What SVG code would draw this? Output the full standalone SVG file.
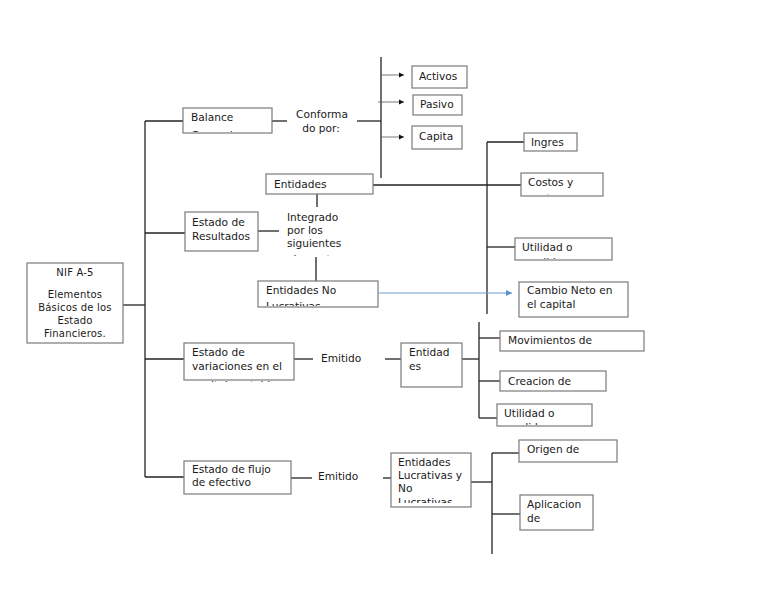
<svg xmlns="http://www.w3.org/2000/svg" width="768" height="594" viewBox="0 0 768 594">
<style>
.box{fill:#fff;stroke:#7a7a7a;stroke-width:1.2}
.t{font-family:"DejaVu Sans",Verdana,sans-serif;font-size:10.6px;fill:#1a1a1a}
.s{font-family:"DejaVu Sans",Verdana,sans-serif;font-size:10px;fill:#1a1a1a;letter-spacing:0.2px}
.c line,.c path{stroke:#222;stroke-width:1.3;fill:none}
.c .thin{stroke:#555;stroke-width:0.8}
.c .blue{stroke:#6a9bd0;stroke-width:1}
</style>
<defs>
<marker id="ah" markerWidth="6" markerHeight="6" refX="5" refY="3" orient="auto" markerUnits="userSpaceOnUse">
<path d="M0,0.5 L5,3 L0,5.5 Z" fill="#111"/>
</marker>
<marker id="ahb" markerWidth="7" markerHeight="7" refX="6" refY="3.5" orient="auto" markerUnits="userSpaceOnUse">
<path d="M0,0.5 L6,3.5 L0,6.5 Z" fill="#5b8fcc"/>
</marker>
<clipPath id="cBal"><rect x="183" y="108" width="89" height="24"/></clipPath>
<clipPath id="cCap"><rect x="412" y="126" width="50" height="22"/></clipPath>
<clipPath id="cEnt"><rect x="266" y="174" width="107" height="20"/></clipPath>
<clipPath id="cInt"><rect x="280" y="205" width="80" height="51"/></clipPath>
<clipPath id="cENL"><rect x="258" y="281" width="120" height="25"/></clipPath>
<clipPath id="cIng"><rect x="524" y="133" width="53" height="18"/></clipPath>
<clipPath id="cCos"><rect x="521" y="173" width="82" height="22"/></clipPath>
<clipPath id="cUti"><rect x="515" y="238" width="97" height="21"/></clipPath>
<clipPath id="cVar"><rect x="184" y="343" width="110" height="39"/></clipPath>
<clipPath id="cUt2"><rect x="497" y="404" width="95" height="21"/></clipPath>
<clipPath id="cELN"><rect x="391" y="453" width="80" height="50"/></clipPath>
</defs>

<g id="connectors" class="c">
<line x1="145" y1="121" x2="145" y2="477"/>
<line x1="145" y1="121" x2="183" y2="121"/>
<line x1="145" y1="233" x2="185" y2="233"/>
<line x1="123" y1="305" x2="145" y2="305"/>
<line x1="145" y1="359" x2="184" y2="359"/>
<line x1="145" y1="477" x2="184" y2="477"/>
<line x1="272" y1="121" x2="287" y2="121"/>
<line x1="357" y1="121" x2="381" y2="121"/>
<line x1="381" y1="57" x2="381" y2="178"/>
<line class="thin" x1="381" y1="75" x2="404" y2="75" marker-end="url(#ah)"/>
<line class="thin" x1="378" y1="102" x2="404" y2="102" marker-end="url(#ah)"/>
<line class="thin" x1="381" y1="137" x2="404" y2="137" marker-end="url(#ah)"/>
<line x1="373" y1="185" x2="521" y2="185"/>
<line x1="487" y1="142" x2="487" y2="314"/>
<line x1="487" y1="142" x2="524" y2="142"/>
<line x1="487" y1="247" x2="515" y2="247"/>
<line class="blue" x1="379" y1="293" x2="512" y2="293" marker-end="url(#ahb)"/>
<line x1="317" y1="194" x2="317" y2="207"/>
<line x1="316" y1="257" x2="316" y2="281"/>
<line x1="258" y1="231" x2="279" y2="231"/>
<line x1="294" y1="359" x2="313" y2="359"/>
<line x1="385" y1="359" x2="401" y2="359"/>
<line x1="462" y1="359" x2="479" y2="359"/>
<line x1="479" y1="322" x2="479" y2="418"/>
<line x1="479" y1="338" x2="500" y2="338"/>
<line x1="479" y1="381" x2="500" y2="381"/>
<line x1="479" y1="418" x2="497" y2="418"/>
<line x1="291" y1="478" x2="312" y2="478"/>
<line x1="383" y1="478" x2="391" y2="478"/>
<line x1="471" y1="482" x2="492" y2="482"/>
<line x1="492" y1="453" x2="492" y2="554"/>
<line x1="492" y1="453" x2="519" y2="453"/>
<line x1="492" y1="514" x2="520" y2="514"/>
</g>

<g id="nif">
<rect class="box" x="27" y="263" width="96" height="80"/>
<text class="s" text-anchor="middle" x="75" y="276">NIF A-5</text>
<text class="s" text-anchor="middle" x="75" y="298">Elementos</text>
<text class="s" text-anchor="middle" x="75" y="311">Básicos de los</text>
<text class="s" text-anchor="middle" x="75" y="324">Estado</text>
<text class="s" text-anchor="middle" x="75" y="337">Financieros.</text>
</g>

<g id="balance">
<rect class="box" x="183" y="108" width="89" height="25"/>
<g clip-path="url(#cBal)">
<text class="t" x="191" y="121">Balance</text>
<text class="t" x="191" y="138.5">General</text>
</g>
</g>

<g id="conformado">
<text class="t" text-anchor="middle" x="322" y="118">Conforma</text>
<text class="t" text-anchor="middle" x="321" y="132">do por:</text>
</g>

<g id="activos">
<rect class="box" x="412" y="66" width="55" height="22"/>
<text class="t" x="419" y="80">Activos</text>
</g>
<g id="pasivo">
<rect class="box" x="413" y="95" width="49" height="20"/>
<text class="t" x="420" y="108">Pasivo</text>
</g>
<g id="capital">
<rect class="box" x="412" y="126" width="50" height="23"/>
<g clip-path="url(#cCap)">
<text class="t" x="419" y="140">Capita</text>
<text class="t" x="419" y="155.5">l</text>
</g>
</g>

<g id="resultados">
<rect class="box" x="185" y="212" width="73" height="39"/>
<text class="t" x="192" y="226">Estado de</text>
<text class="t" x="192" y="240">Resultados</text>
</g>

<g id="integrado">
<g clip-path="url(#cInt)">
<text class="t" x="287" y="221">Integrado</text>
<text class="t" x="287" y="234">por los</text>
<text class="t" x="287" y="247">siguientes</text>
<text class="t" x="287" y="263">elementos</text>
</g>
</g>

<g id="entidades-lucrativas">
<rect class="box" x="266" y="174" width="107" height="20"/>
<g clip-path="url(#cEnt)">
<text class="t" x="274" y="188">Entidades</text>
</g>
</g>

<g id="entidades-no-lucrativas">
<rect class="box" x="258" y="281" width="120" height="26"/>
<g clip-path="url(#cENL)">
<text class="t" x="266" y="294">Entidades No</text>
<text class="t" x="266" y="310">Lucrativas</text>
</g>
</g>

<g id="ingresos">
<rect class="box" x="524" y="133" width="53" height="18"/>
<g clip-path="url(#cIng)">
<text class="t" x="531" y="146">Ingres</text>
</g>
</g>
<g id="costos">
<rect class="box" x="521" y="173" width="82" height="23"/>
<g clip-path="url(#cCos)">
<text class="t" x="528" y="186">Costos y</text>
<text class="t" x="528" y="201.5">gastos</text>
</g>
</g>
<g id="utilidad">
<rect class="box" x="515" y="238" width="97" height="22"/>
<g clip-path="url(#cUti)">
<text class="t" x="522" y="251">Utilidad o</text>
<text class="t" x="522" y="265.5">perdida</text>
</g>
</g>
<g id="cambio-neto">
<rect class="box" x="519" y="282" width="109" height="35"/>
<text class="t" x="527" y="294">Cambio Neto en</text>
<text class="t" x="527" y="308">el capital</text>
</g>

<g id="variaciones">
<rect class="box" x="184" y="343" width="110" height="37"/>
<g clip-path="url(#cVar)">
<text class="t" x="192" y="356">Estado de</text>
<text class="t" x="192" y="370">variaciones en el</text>
<text class="t" x="192" y="388.5">capital contable</text>
</g>
</g>
<g id="emitido1">
<text class="t" x="321" y="362">Emitido</text>
</g>
<g id="entidades-var">
<rect class="box" x="401" y="343" width="61" height="44"/>
<text class="t" x="409" y="356">Entidad</text>
<text class="t" x="409" y="370">es</text>
</g>
<g id="movimientos">
<rect class="box" x="500" y="331" width="144" height="20"/>
<text class="t" x="508" y="344">Movimientos de</text>
</g>
<g id="creacion">
<rect class="box" x="500" y="371" width="106" height="20"/>
<text class="t" x="508" y="385">Creacion de</text>
</g>
<g id="utilidad2">
<rect class="box" x="497" y="404" width="95" height="22"/>
<g clip-path="url(#cUt2)">
<text class="t" x="504" y="417">Utilidad o</text>
<text class="t" x="504" y="431">perdida</text>
</g>
</g>

<g id="flujo">
<rect class="box" x="184" y="461" width="107" height="33"/>
<text class="t" x="192" y="473">Estado de flujo</text>
<text class="t" x="192" y="486">de efectivo</text>
</g>
<g id="emitido2">
<text class="t" x="318" y="480">Emitido</text>
</g>
<g id="entidades-flujo">
<rect class="box" x="391" y="453" width="80" height="54"/>
<g clip-path="url(#cELN)">
<text class="t" x="398" y="466">Entidades</text>
<text class="t" x="398" y="479">Lucrativas y</text>
<text class="t" x="398" y="492">No</text>
<text class="t" x="398" y="506">Lucrativas</text>
</g>
</g>
<g id="origen">
<rect class="box" x="519" y="440" width="98" height="22"/>
<text class="t" x="527" y="453">Origen de</text>
</g>
<g id="aplicacion">
<rect class="box" x="520" y="495" width="73" height="35"/>
<text class="t" x="527" y="508">Aplicacion</text>
<text class="t" x="527" y="522">de</text>
</g>
</svg>
